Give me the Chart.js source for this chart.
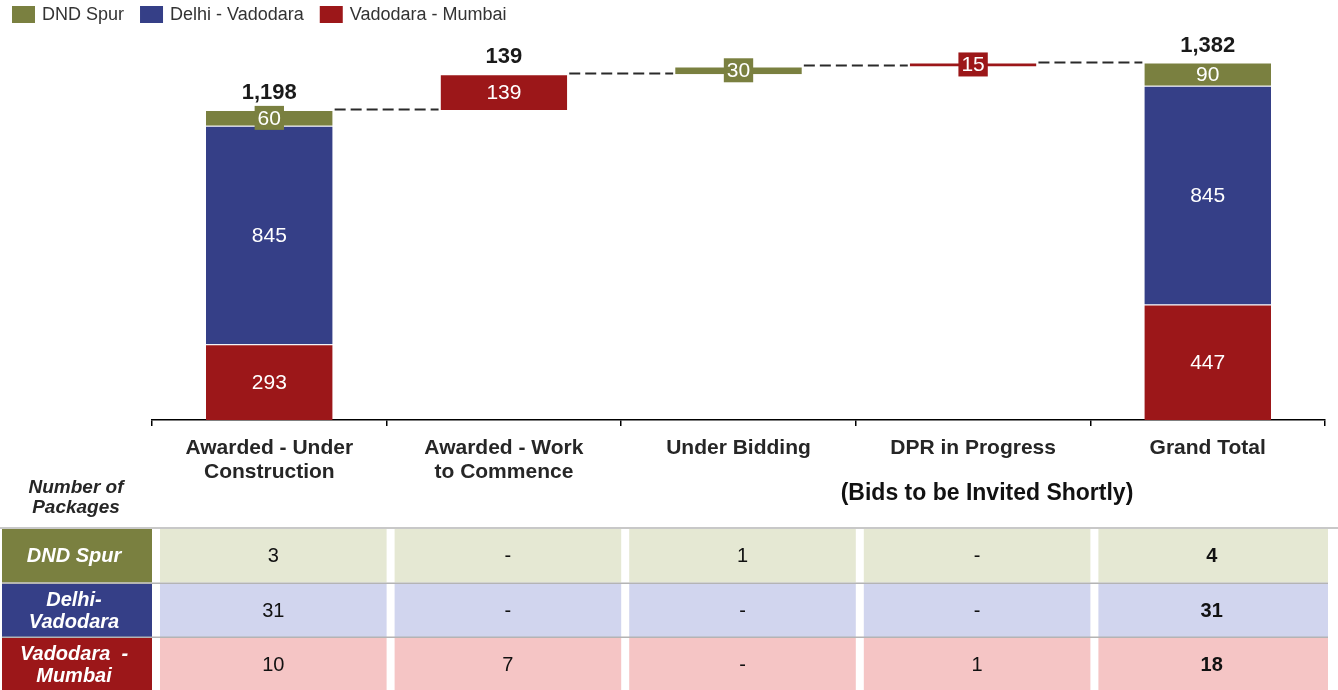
<!DOCTYPE html>
<html>
<head>
<meta charset="utf-8">
<title>Packages waterfall</title>
<script src="https://cdn.jsdelivr.net/npm/chart.js@4.4.1/dist/chart.umd.min.js"></script>
<style>
    html, body { margin: 0; padding: 0; background: #fff; }
    #wrap { position: relative; width: 1338px; height: 690px; }
</style>
</head>
<body>
<div id="wrap"><canvas id="chart" width="1338" height="690"></canvas></div>
<script>
// ---- data ----
var categories = [['Awarded - Under', 'Construction'], ['Awarded - Work', 'to Commence'], 'Under Bidding', 'DPR in Progress', 'Grand Total'];
var isTotal = [false, false, false, false, true];
var showTopLabel = [true, true, false, false, true];

var dndSpur = [60, 0, 30, 0, 90];
var delhiVadodara = [845, 0, 0, 0, 845];
var vadodaraMumbai = [293, 139, 0, 15, 447];

var seriesNames = ['DND Spur', 'Delhi - Vadodara', 'Vadodara - Mumbai'];
var seriesColors = ['#7A8040', '#353F87', '#9C1719'];
var rowColors = ['#E5E8D3', '#D1D5EE', '#F5C5C5'];

var rowNames = [['DND Spur'], ['Delhi-', 'Vadodara'], ['Vadodara  -', 'Mumbai']];
var dndPackages = [3, 0, 1, 0, 4];
var delhiPackages = [31, 0, 0, 0, 31];
var mumbaiPackages = [10, 7, 0, 1, 18];

// ---- waterfall ranges (stack bottom -> top: Mumbai, Delhi, DND) ----
var sums = categories.map(function (c, i) { return vadodaraMumbai[i] + delhiVadodara[i] + dndSpur[i]; });
var bases = [];
var running = 0;
sums.forEach(function (s, i) {
    if (isTotal[i]) {
        bases.push(0);
    } else {
        bases.push(running);
        running += s;
    }
});

function range(values, below) {
    return values.map(function (v, i) {
        if (!v) return null;
        var start = bases[i] + below.reduce(function (a, arr) { return a + arr[i]; }, 0);
        return [start, start + v];
    });
}

var mumbaiRange = range(vadodaraMumbai, []);
var delhiRange = range(delhiVadodara, [vadodaraMumbai]);
var dndRange = range(dndSpur, [vadodaraMumbai, delhiVadodara]);

var FONT = "'Liberation Sans', Arial, sans-serif";
var BAR_PCT = 0.54;

function barGeom(chart, i) {
    var xs = chart.scales.x;
    var cw = xs.width / categories.length;
    var c = xs.getPixelForValue(i);
    return { left: c - cw * BAR_PCT / 2, right: c + cw * BAR_PCT / 2, center: c, catLeft: c - cw / 2, catRight: c + cw / 2 };
}

var connectorPlugin = {
    id: 'connectors',
    beforeDatasetsDraw: function (chart) {
        var ctx = chart.ctx;
        var ys = chart.scales.y;
        ctx.save();
        ctx.strokeStyle = '#2a2a2a';
        ctx.lineWidth = 2;
        ctx.setLineDash([11, 5]);
        for (var i = 0; i < categories.length - 1; i++) {
            var y = Math.round(ys.getPixelForValue(bases[i] + sums[i])) - 0.5;
            var a = barGeom(chart, i), b = barGeom(chart, i + 1);
            ctx.beginPath();
            ctx.moveTo(a.right + 2, y);
            ctx.lineTo(b.left - 2, y);
            ctx.stroke();
        }
        ctx.restore();
    }
};

var labelPlugin = {
    id: 'barLabels',
    afterDatasetsDraw: function (chart) {
        var ctx = chart.ctx;
        ctx.save();
        ctx.textAlign = 'center';
        ctx.textBaseline = 'middle';
        ctx.font = '21px ' + FONT;
        chart.data.datasets.forEach(function (ds, di) {
            var meta = chart.getDatasetMeta(di);
            meta.data.forEach(function (el, i) {
                var r = ds.data[i];
                if (!r) return;
                var txt = String(r[1] - r[0]);
                var yc = (el.y + el.base) / 2;
                var h = Math.abs(el.base - el.y);
                if (h < 20) {
                    var w = ctx.measureText(txt).width + 6;
                    ctx.fillStyle = ds.backgroundColor;
                    ctx.fillRect(el.x - w / 2, yc - 12, w, 24);
                }
                ctx.fillStyle = '#ffffff';
                ctx.fillText(txt, el.x, yc + 1);
            });
        });
        // totals above the bars
        var ys = chart.scales.y;
        ctx.font = 'bold 22px ' + FONT;
        ctx.fillStyle = '#1a1a1a';
        sums.forEach(function (s, i) {
            if (!showTopLabel[i]) return;
            var top = ys.getPixelForValue(bases[i] + s);
            ctx.fillText(s.toLocaleString('en-US'), barGeom(chart, i).center, top - 17);
        });
        ctx.restore();
    }
};

var extrasPlugin = {
    id: 'extras',
    afterDraw: function (chart) {
        var ctx = chart.ctx;
        ctx.save();

        // legend
        ctx.font = '18px ' + FONT;
        ctx.textBaseline = 'middle';
        ctx.textAlign = 'left';
        var lx = 12;
        seriesNames.forEach(function (name, k) {
            ctx.fillStyle = seriesColors[k];
            ctx.fillRect(lx, 6, 23, 17);
            ctx.fillStyle = '#333333';
            ctx.fillText(name, lx + 30, 15);
            lx += 30 + ctx.measureText(name).width + 16;
        });

        // side captions
        ctx.textAlign = 'center';
        ctx.fillStyle = '#262626';
        ctx.font = 'italic bold 19px ' + FONT;
        ctx.fillText('Number of', 76, 488);
        ctx.fillText('Packages', 76, 508);
        ctx.font = 'bold 23px ' + FONT;
        ctx.fillStyle = '#111111';
        ctx.fillText('(Bids to be Invited Shortly)', 987, 494);

        // package table
        var rows = [dndPackages, delhiPackages, mumbaiPackages];
        var rowTops = [529, 583.5, 637.5];
        var rowH = 53.5;
        ctx.fillStyle = '#C8C8C8';
        ctx.fillRect(0, 527, 1338, 2);
        rows.forEach(function (vals, r) {
            var top = rowTops[r];
            ctx.fillStyle = seriesColors[r];
            ctx.fillRect(2, top, 150, rowH);
            ctx.fillStyle = '#ffffff';
            ctx.font = 'italic bold 20px ' + FONT;
            var names = rowNames[r];
            names.forEach(function (line, j) {
                ctx.fillText(line, 74, top + rowH / 2 + (j - (names.length - 1) / 2) * 22 + 1);
            });
            vals.forEach(function (v, i) {
                var g = barGeom(chart, i);
                var right = i === vals.length - 1 ? g.catRight + 3 : g.catRight;
                ctx.fillStyle = rowColors[r];
                ctx.fillRect(g.catLeft + 8, top, right - g.catLeft - 8, rowH);
                ctx.fillStyle = '#111111';
                ctx.font = (isTotal[i] ? 'bold ' : '') + '20px ' + FONT;
                ctx.fillText(v ? String(v) : '-', g.center + 4, top + rowH / 2 + 1);
            });
            if (r > 0) {
                ctx.fillStyle = '#B4B4B4';
                ctx.fillRect(2, top - 1, 1326, 1.5);
            }
        });
        ctx.restore();
    }
};

function dataset(label, data, color) {
    return {
        label: label,
        data: data,
        backgroundColor: color,
        borderColor: '#ffffff',
        borderWidth: { top: 1, right: 0, bottom: 0, left: 0 },
        borderSkipped: false,
        grouped: false,
        barPercentage: BAR_PCT,
        categoryPercentage: 1
    };
}

new Chart(document.getElementById('chart').getContext('2d'), {
    type: 'bar',
    data: {
        labels: categories,
        datasets: [
            dataset(seriesNames[0], dndRange, seriesColors[0]),
            dataset(seriesNames[1], delhiRange, seriesColors[1]),
            dataset(seriesNames[2], mumbaiRange, seriesColors[2])
        ]
    },
    options: {
        responsive: false,
        animation: false,
        devicePixelRatio: 1,
        layout: { padding: { left: 152, right: 13, top: 32, bottom: 0 } },
        plugins: {
            legend: { display: false },
            tooltip: { enabled: false }
        },
        scales: {
            x: {
                grid: { offset: true, drawOnChartArea: false, drawTicks: true, tickLength: 6, color: '#000000', lineWidth: 1.5 },
                border: { display: true, color: '#000000', width: 1.5 },
                ticks: {
                    padding: 10,
                    color: '#262626',
                    font: { family: FONT, size: 21, weight: 'bold', lineHeight: 1.15 },
                    maxRotation: 0,
                    autoSkip: false
                },
                afterFit: function (scale) { scale.height = 270; }
            },
            y: {
                display: false,
                min: 0,
                max: 1500
            }
        }
    },
    plugins: [connectorPlugin, labelPlugin, extrasPlugin]
});
</script>
</body>
</html>
